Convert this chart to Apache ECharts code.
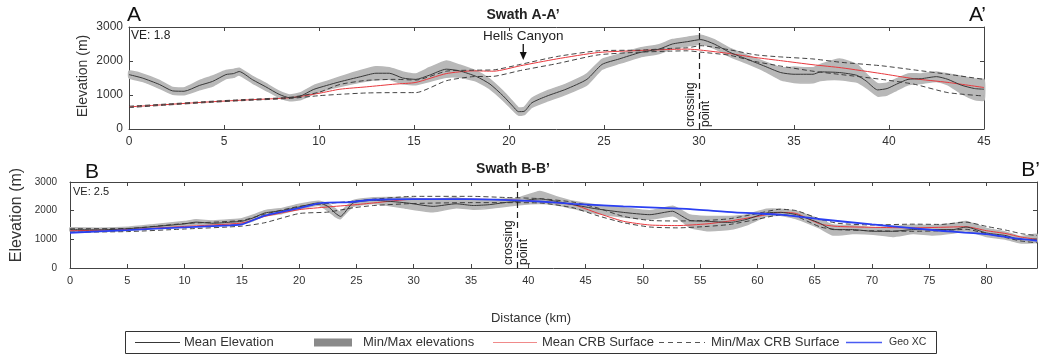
<!DOCTYPE html>
<html><head><meta charset="utf-8">
<script src="https://cdn.jsdelivr.net/npm/echarts@6/dist/echarts.min.js"></script>
<style>html,body{margin:0;padding:0;background:#fff}#c{width:1040px;height:355px}</style>
</head><body><div id="c"></div>
<script>
// ---------- Swath A-A' (top panel) ----------
const topDist = [0,0.7,1.6,2.3,2.9,3.7,4.4,5.1,5.5,5.8,6.5,7.2,7.9,8.45,9.0,9.7,10.4,11.1,12.2,13.0,13.7,14.4,15.1,15.8,16.7,17.4,18.3,19.0,19.7,20.2,20.5,20.8,21.2,22.0,23.0,24.1,24.9,25.8,26.9,27.9,28.6,29.4,30.1,30.8,31.6,32.5,33.4,34.3,35.0,36.0,36.4,37.4,38.3,38.8,39.4,39.9,40.4,41.0,41.7,42.5,43.1,43.8,44.5,45];
const topMean = [1600,1500,1310,1120,1110,1280,1400,1600,1630,1690,1450,1240,1020,920,960,1160,1280,1390,1540,1640,1640,1500,1460,1580,1760,1710,1540,1320,970,670,510,520,770,970,1170,1460,1900,2060,2250,2350,2500,2570,2630,2500,2260,2060,1860,1660,1610,1610,1680,1660,1580,1410,1150,1190,1320,1460,1480,1540,1460,1290,1190,1170];
const topMin  = [1500,1400,1200,1020,1010,1150,1260,1480,1520,1590,1350,1140,930,830,860,1030,1150,1250,1380,1450,1460,1330,1300,1400,1520,1520,1400,1180,840,560,410,420,640,820,1020,1300,1760,1930,2120,2220,2370,2440,2500,2370,2140,1940,1720,1450,1370,1360,1430,1450,1380,1220,970,1000,1140,1300,1340,1400,1300,1050,870,850];
const topMax  = [1700,1620,1430,1220,1210,1420,1560,1720,1750,1790,1550,1340,1110,1000,1060,1270,1400,1530,1720,1830,1800,1680,1620,1800,2000,1880,1700,1460,1100,800,620,640,900,1120,1320,1620,2050,2200,2380,2480,2630,2700,2760,2630,2380,2180,1990,1800,1820,1800,1900,2060,1900,1620,1330,1350,1480,1620,1620,1680,1620,1550,1470,1450];
const topCrbDist = [0,2,4,6,8.5,10,11.1,12.5,14,15.1,16.7,18.1,19.2,20.6,22.5,24.7,26.9,28.5,29.4,30.1,31.6,33,34.3,36,37.5,39.6,41.3,43.1,45];
const topCrbMean = [650,720,790,850,920,1050,1170,1240,1320,1370,1630,1710,1700,1860,2060,2250,2310,2340,2350,2320,2220,2100,2010,1890,1800,1630,1480,1370,1220];
const topCrbMax  = [670,735,805,865,935,1080,1310,1430,1460,1440,1700,1730,1740,1900,2130,2300,2320,2370,2390,2450,2330,2180,2120,2060,1960,1860,1740,1610,1460];
const topCrbMin  = [630,705,775,835,900,980,1020,1060,1070,1070,1420,1540,1550,1720,1920,2180,2260,2290,2300,2260,2170,1980,1850,1700,1600,1460,1320,1070,970];
const topCrossing = 30;
const topCanyon = 20.75;

// ---------- Swath B-B' (bottom panel) ----------
const botDist = [0,2.5,5,7.5,10,11,12.5,14,15,16,17,18.5,20,21.7,22.5,23.2,23.6,24.7,26.5,29.4,31.7,33.7,35.2,36.6,38.1,39,41,42.5,43.9,46,48.3,50.6,52.6,53.2,54.1,55.6,57.6,59,60.8,62,63.4,65.4,66.6,68.3,70.1,71.8,73.6,75.3,77.1,78.2,80,81.7,82.9,84,84.4];
const botMean = [1340,1330,1370,1450,1540,1600,1560,1600,1630,1750,1920,2000,2130,2270,2150,1900,1800,2270,2360,2270,2150,2240,2180,2210,2290,2320,2410,2320,2210,2060,1940,1860,1980,1860,1660,1630,1590,1690,1920,1940,1860,1570,1340,1340,1280,1280,1340,1340,1340,1430,1220,1130,990,1000,1010];
const botMin  = [1290,1280,1320,1390,1470,1520,1490,1520,1550,1650,1820,1900,2050,2190,2000,1780,1720,2150,2250,2080,1960,2100,2050,2080,2150,2200,2250,2200,2080,1900,1780,1700,1820,1700,1420,1300,1350,1500,1800,1840,1720,1400,1150,1200,1180,1100,1200,1150,1220,1300,1100,1000,880,880,900];
const botMax  = [1400,1390,1420,1520,1620,1680,1640,1680,1720,1850,2000,2080,2220,2330,2250,2050,1950,2350,2450,2450,2380,2450,2350,2380,2420,2420,2670,2480,2330,2200,2100,2000,2150,2050,1850,1800,1800,1850,2050,2050,1980,1700,1500,1480,1400,1450,1500,1480,1550,1620,1380,1250,1100,1160,1180];
const botCrbDist = [0,5,10,15,17,20,22.5,24.7,26.5,30,35,38,41,43.9,46,48.3,50.6,53,55.6,57.6,60,62,63.4,65.5,67,70,73.6,76,78.2,80,81.7,83,84.4];
const botCrbMean = [1300,1340,1450,1570,1800,2035,2130,2200,2270,2400,2400,2380,2320,2210,1920,1630,1500,1480,1540,1640,1800,1940,1900,1530,1450,1420,1400,1420,1440,1300,1200,1080,1000];
const botCrbMax  = [1370,1380,1550,1660,1880,2150,2250,2330,2400,2500,2500,2460,2420,2300,2100,1800,1660,1640,1660,1720,1900,2050,2000,1700,1560,1500,1530,1520,1600,1450,1320,1200,1130];
const botCrbMin  = [1250,1270,1360,1460,1580,1900,1950,2100,2180,2250,2280,2280,2270,2100,1830,1580,1430,1400,1450,1520,1700,1850,1800,1430,1340,1300,1280,1300,1350,1200,1060,940,880];
const botGeoDist = [0,5,10,14,15,17,20,22,24.4,26.5,30,35,39,41,43.9,48.3,53.8,58,62,65.3,70,76,80,82.2,84.4];
const botGeoXC   = [1230,1320,1420,1490,1520,1830,2090,2270,2300,2380,2400,2400,2360,2320,2240,2150,2060,1940,1860,1710,1520,1300,1180,1050,950];
const botCrossing = 39;

// ---------- ticks / labels ----------
const elevTicks = {min:0, max:3000, interval:1000};
const topXRange = {min:0, max:45, interval:5};
const botXRange = {min:0, max:84.4, interval:5};
const legendNames = ['Mean Elevation','Min/Max elevations','Mean CRB Surface','Min/Max CRB Surface','Geo XC'];

const FONT = '"Liberation Sans", Helvetica, Arial, sans-serif';
const C_MEAN = '#383838', C_BAND = '#b8b8b8', C_RED = '#e8383d', C_DASH = '#303030', C_BLUE = '#2a3ff2';
const SMOOTH = 0.2;

function pairs(xs, ys){ return xs.map((x,i)=>[x, ys[i]]); }

const chart = echarts.init(document.getElementById('c'));

function xAx(gi, range, pos, lab, fs){
  return Object.assign({type:'value', gridIndex:gi, position:pos}, range, {
    axisLine:{show:true, onZero:false, lineStyle:{color:'#444', width:1}},
    axisTick:{show:true, inside:true, length:4, lineStyle:{color:'#444'}},
    axisLabel:{show:lab, fontSize:fs, color:'#333', fontFamily:FONT, margin:7,
      formatter: v => (v % 5 === 0 ? String(v) : '')},
    splitLine:{show:false}
  });
}
function yAx(gi, pos, lab, fs, margin){
  return Object.assign({type:'value', gridIndex:gi, position:pos}, elevTicks, {
    axisLine:{show:true, onZero:false, lineStyle:{color:'#444', width:1}},
    axisTick:{show:true, inside:true, length:4, lineStyle:{color:'#444'}},
    axisLabel:{show:lab, fontSize:fs, color:'#333', fontFamily:FONT, margin:margin, formatter: v => String(v)},
    splitLine:{show:false}
  });
}
function bandSeries(xi, yi, dist, lo, hi){
  return {type:'custom', name:legendNames[1], xAxisIndex:xi, yAxisIndex:yi, silent:true, animation:false, z:1,
    data: dist.map((x,i)=>[x, lo[i], hi[i]]),
    encode:{x:0, y:[1,2]},
    renderItem: function(params, api){
      if (params.dataIndex !== 0) return null;
      const up = dist.map((x,i)=>api.coord([x, hi[i]]));
      const dn = dist.map((x,i)=>api.coord([x, lo[i]])).reverse();
      return {type:'polygon', shape:{points: up.concat(dn), smooth:0.15}, style:{fill:C_BAND, stroke:C_BAND, lineWidth:1.5}};
    }};
}
function panelSeries(xi, yi, dist, lo, hi, mean, cdist, cmean, cmin, cmax, cross){
  const base = {type:'line', xAxisIndex:xi, yAxisIndex:yi, showSymbol:false, symbol:'none', silent:true, animation:false, z:3, smooth:SMOOTH};
  return [
    bandSeries(xi, yi, dist, lo, hi),
    Object.assign({}, base, {name:legendNames[2], data:pairs(cdist, cmean), lineStyle:{color:C_RED, width:1}}),
    Object.assign({}, base, {name:legendNames[3]+' max', data:pairs(cdist, cmax), lineStyle:{color:C_DASH, width:0.9, type:[5,3]}}),
    Object.assign({}, base, {name:legendNames[3]+' min', data:pairs(cdist, cmin), lineStyle:{color:C_DASH, width:0.9, type:[5,3]}}),
    Object.assign({}, base, {name:legendNames[0], z:4, data:pairs(dist, mean), lineStyle:{color:C_MEAN, width:1},
      markLine:{silent:true, symbol:['none','none'], animation:false, label:{show:false},
        lineStyle:{color:'#222', width:1.2, type:[6,4]}, data:[{xAxis:cross}]}})
  ];
}

const series = [].concat(
  panelSeries(0, 0, topDist, topMin, topMax, topMean, topCrbDist, topCrbMean, topCrbMin, topCrbMax, topCrossing),
  panelSeries(2, 2, botDist, botMin, botMax, botMean, botCrbDist, botCrbMean, botCrbMin, botCrbMax, botCrossing),
  [{type:'line', name:legendNames[4], xAxisIndex:2, yAxisIndex:2, showSymbol:false, symbol:'none', silent:true, animation:false, smooth:SMOOTH,
    data:pairs(botGeoDist, botGeoXC), lineStyle:{color:C_BLUE, width:1.8}, z:5}]
);

chart.setOption({
  animation:false,
  textStyle:{fontFamily:FONT},
  grid:[
    {left:129, top:27, width:855, height:102, show:false},
    {left:70, top:182, width:968, height:86, show:false}
  ],
  xAxis:[ xAx(0, topXRange, 'bottom', true, 12), xAx(0, topXRange, 'top', false, 12),
          xAx(1, botXRange, 'bottom', true, 11), xAx(1, botXRange, 'top', false, 11) ],
  yAxis:[ yAx(0, 'left', true, 12, 6), yAx(0, 'right', false, 12, 6),
          yAx(1, 'left', true, 10, 13), yAx(1, 'right', false, 10, 6) ],
  series: series
});

// ---------- annotations placed through the axes ----------
const px = (ai, v) => chart.convertToPixel({xAxisIndex:ai}, v);
const py = (ai, v) => chart.convertToPixel({yAxisIndex:ai}, v);
const topBottom = py(0, 0), botBottom = py(2, 0);
const cxA = px(0, topCrossing), cxB = px(2, botCrossing), canX = px(0, topCanyon);

function txt(t, x, y, size, opts){
  return {type:'text', x:x, y:y, silent:true, z:100, rotation:(opts&&opts.rot)||0,
    style:Object.assign({text:t, fontSize:size, fontFamily:FONT, fill:'#222', align:'left', verticalAlign:'middle'}, opts&&opts.style)};
}
const lgY = 342.5;
const graphic = [
  txt('A', 127, 15, 21, {style:{fill:'#111'}}),
  txt('A\u2019', 986, 15, 21, {style:{align:'right', fill:'#111'}}),
  txt('Swath A-A\u2019', 523, 15, 14, {style:{align:'center', fontWeight:'bold'}}),
  txt('VE: 1.8', 131, 36, 12),
  txt('Hells Canyon', canX, 36, 13.5, {style:{align:'center'}}),
  {type:'line', silent:true, z:100, shape:{x1:canX, y1:44, x2:canX, y2:54}, style:{stroke:'#111', lineWidth:1.3}},
  {type:'polygon', silent:true, z:100, shape:{points:[[canX-3.5,52],[canX+3.5,52],[canX,60]]}, style:{fill:'#111'}},
  txt('crossing\npoint', cxA-1, topBottom-2, 12, {rot:Math.PI/2, style:{align:'left', verticalAlign:'middle', lineHeight:15}}),
  txt('Elevation (m)', 83, 76, 14, {rot:Math.PI/2, style:{align:'center', fill:'#333'}}),

  txt('B', 85, 172, 21, {style:{fill:'#111'}}),
  txt('B\u2019', 1040, 170, 21, {style:{align:'right', fill:'#111'}}),
  txt('Swath B-B\u2019', 513, 169, 14, {style:{align:'center', fontWeight:'bold'}}),
  txt('VE: 2.5', 73, 192, 11),
  txt('crossing\npoint', cxB-1, botBottom-3, 12, {rot:Math.PI/2, style:{align:'left', verticalAlign:'middle', lineHeight:15}}),
  txt('Elevation (m)', 17, 215, 16, {rot:Math.PI/2, style:{align:'center', fill:'#333'}}),

  txt('Distance (km)', 531, 318, 13, {style:{align:'center', fill:'#333'}}),
  {type:'rect', silent:true, z:90, shape:{x:125.5, y:331.5, width:811, height:22}, style:{fill:'#fff', stroke:'#333', lineWidth:1}},
  {type:'line', silent:true, z:100, shape:{x1:135, y1:lgY, x2:180, y2:lgY}, style:{stroke:C_MEAN, lineWidth:1}},
  txt(legendNames[0], 184, lgY, 13, {style:{fill:'#333'}}),
  {type:'rect', silent:true, z:100, shape:{x:314, y:338.5, width:38, height:8}, style:{fill:'#8a8a8a'}},
  txt(legendNames[1], 363, lgY, 13, {style:{fill:'#333'}}),
  {type:'line', silent:true, z:100, shape:{x1:493, y1:lgY, x2:537, y2:lgY}, style:{stroke:'#f08a8a', lineWidth:1}},
  txt(legendNames[2], 542, lgY, 13, {style:{fill:'#333'}}),
  {type:'line', silent:true, z:100, shape:{x1:659, y1:lgY, x2:705, y2:lgY}, style:{stroke:'#555', lineWidth:1, lineDash:[5,4]}},
  txt(legendNames[3], 711, lgY, 13, {style:{fill:'#333'}}),
  {type:'line', silent:true, z:100, shape:{x1:846, y1:lgY, x2:882, y2:lgY}, style:{stroke:'#4a5cf2', lineWidth:1.6}},
  txt(legendNames[4], 889, lgY, 10.5, {style:{fill:'#333'}})
];
chart.setOption({graphic: graphic});
</script></body></html>
